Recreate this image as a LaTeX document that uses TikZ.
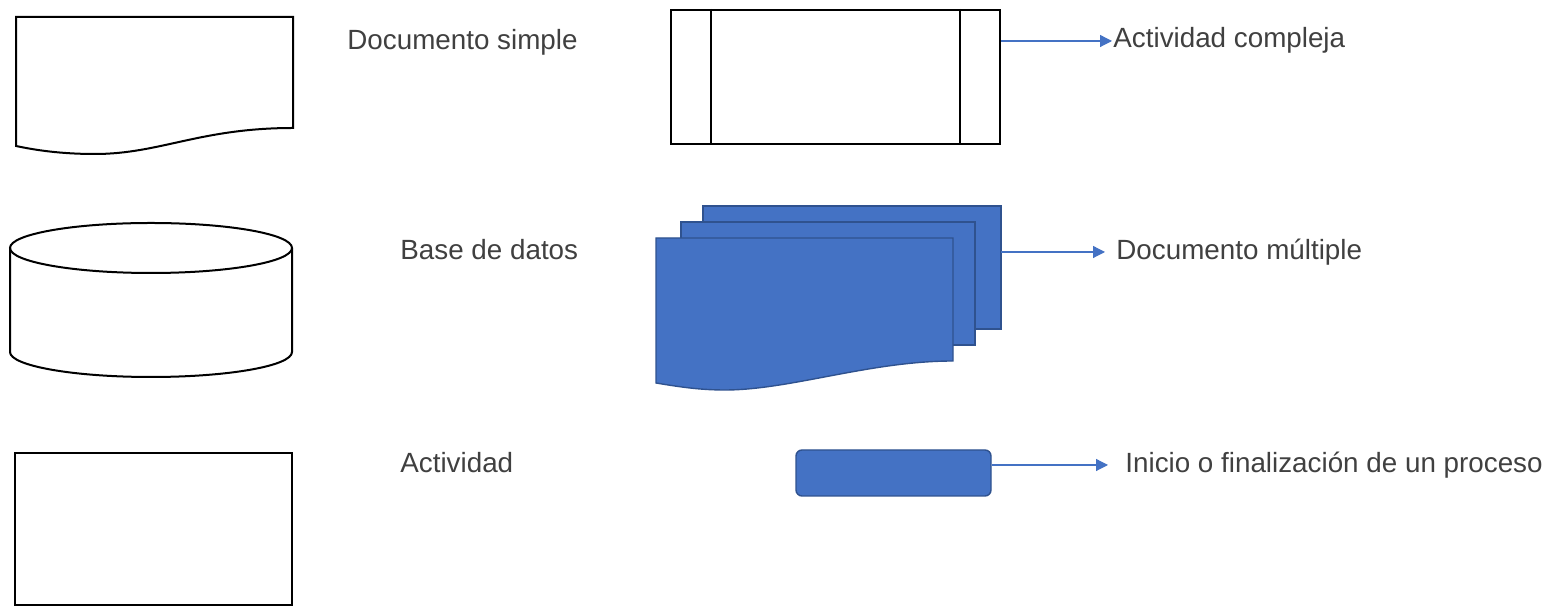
\documentclass[tikz,border=0pt]{standalone}
\usepackage{fontspec}
\setmainfont{Liberation Sans}
\usetikzlibrary{arrows.meta,positioning}
\definecolor{officeblue}{HTML}{4472C4}
\definecolor{officeedge}{HTML}{2F528F}
\definecolor{labelgray}{HTML}{404040}

\begin{document}
\begin{tikzpicture}[x=0.5pt, y=-0.5pt,
                outline/.style={draw=black, line width=1pt},
                sheet/.style={draw=officeedge, fill=officeblue, line width=0.7pt},
                label/.style={anchor=base west, inner sep=0pt, text=labelgray, font=\fontsize{13.9}{16}\selectfont},
                arrow/.style={-{Triangle[length=6pt,width=6pt]}, draw=officeblue, fill=officeblue, line width=0.6pt}
            ]
            \useasboundingbox (0,0) rectangle (1554,613);

            % left column
            \draw[outline] (16,17) -- (293,17) -- (293,128)
                .. controls (200,128) and (160,154) .. (95,154)
                .. controls (60,154) and (35,150) .. (16,146) -- cycle;

            \draw[outline] (10,248) -- (10,352) arc[start angle=180, end angle=360, x radius=70.5pt, y radius=12.5pt] -- (292,248);
            \draw[outline] (151,248) ellipse[x radius=70.5pt, y radius=12.5pt];

            \node[outline, minimum width=138.5pt, minimum height=76pt, inner sep=0pt] (actividad) at (153.5,529) {};

            \node[label] (lsimple) at (347,50) {Documento simple};
            \node[label] (lbase) at (400,260) {Base de datos};
            \node[label] (lactividad) at (400,473) {Actividad};

            % right column
            \node[outline, minimum width=164.5pt, minimum height=67pt, inner sep=0pt] (compleja) at (835.5,77) {};
            \draw[outline] ([xshift=20.5pt]compleja.north west) -- ([xshift=20.5pt]compleja.south west);
            \draw[outline] ([xshift=-20.5pt]compleja.north east) -- ([xshift=-20.5pt]compleja.south east);

            \draw[sheet] (703,206) rectangle (1001,329);
            \draw[sheet] (681,222) rectangle (975,345);
            \draw[sheet] (656,238) -- (953,238) -- (953,361)
                .. controls (870,361) and (790,390) .. (725,390)
                .. controls (700,390) and (680,387) .. (656,383) -- cycle;

            \node[sheet, rounded corners=3pt, minimum width=97.5pt, minimum height=23pt, inner sep=0pt] (termino) at (893.5,473) {};

            \node[label] (lcompleja) at (1113,48) {Actividad compleja};
            \node[label] (lmultiple) at (1116,260) {Documento múltiple};
            \node[label] (ltermino) at (1125,473) {Inicio o finalización de un proceso};

            \coordinate (ccompleja) at (1001,41);
            \coordinate (cmultiple) at (1001,252);
            \coordinate (tcompleja) at (1112,41);
            \coordinate (tmultiple) at (1105,252);
            \coordinate (ttermino) at (1108,465);

            \draw[arrow] (ccompleja) -- (tcompleja);
            \draw[arrow] (cmultiple) -- (tmultiple);
            \draw[arrow] (ttermino -| termino.east) -- (ttermino);

        \end{tikzpicture}
\end{document}
